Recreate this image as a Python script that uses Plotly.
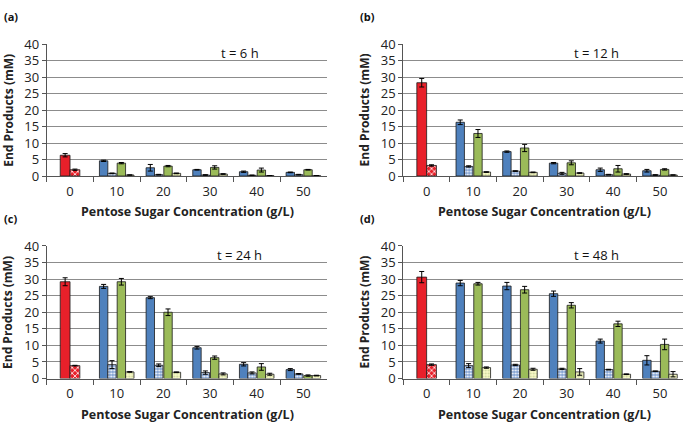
import plotly.graph_objects as go

categories = ["0", "10", "20", "30", "40", "50"]
panel_labels = ["(a)", "(b)", "(c)", "(d)"]
time_labels = ["t = 6 h", "t = 12 h", "t = 24 h", "t = 48 h"]

# series 1: red at 0 g/L, blue otherwise (solid)
s1_a = [6.3, 4.6, 2.5, 1.9, 1.3, 1.1]
s1_a_err = [0.5, 0.2, 1.0, 0.1, 0.2, 0.1]
s1_b = [28.3, 16.3, 7.4, 3.9, 1.9, 1.6]
s1_b_err = [1.3, 0.7, 0.2, 0.2, 0.5, 0.4]
s1_c = [29.2, 27.8, 24.4, 9.3, 4.3, 2.7]
s1_c_err = [1.2, 0.6, 0.3, 0.4, 0.5, 0.3]
s1_d = [30.6, 28.8, 27.9, 25.6, 11.3, 5.5]
s1_d_err = [1.7, 0.8, 1.1, 0.8, 0.6, 1.4]

# series 2: checkered (red at 0 g/L, blue otherwise)
s2_a = [1.9, 0.8, 0.4, 0.3, 0.2, 0.4]
s2_a_err = [0.2, 0.1, 0.1, 0.1, 0.1, 0.1]
s2_b = [3.2, 2.9, 1.5, 0.8, 0.4, 0.3]
s2_b_err = [0.2, 0.2, 0.1, 0.3, 0.1, 0.1]
s2_c = [3.9, 4.2, 4.0, 1.8, 1.7, 1.4]
s2_c_err = [0.1, 1.2, 0.4, 0.5, 0.3, 0.1]
s2_d = [4.2, 3.9, 4.1, 2.9, 2.7, 2.2]
s2_d_err = [0.2, 0.6, 0.2, 0.2, 0.1, 0.1]

# series 3: green (no value at 0 g/L)
s3_a = [None, 3.9, 3.0, 2.6, 1.8, 1.9]
s3_a_err = [0, 0.2, 0.2, 0.5, 0.6, 0.1]
s3_b = [None, 12.9, 8.5, 4.0, 2.2, 2.0]
s3_b_err = [0, 1.2, 1.1, 0.6, 1.0, 0.2]
s3_c = [None, 29.2, 20.0, 6.3, 3.5, 0.9]
s3_c_err = [0, 1.0, 1.0, 0.5, 1.0, 0.2]
s3_d = [None, 28.6, 26.8, 22.1, 16.5, 10.3]
s3_d_err = [0, 0.4, 1.0, 0.8, 0.8, 1.6]

# series 4: pale yellow dotted (no value at 0 g/L)
s4_a = [None, 0.3, 0.8, 0.6, 0.1, 0.1]
s4_a_err = [0, 0.05, 0.1, 0.1, 0.05, 0.05]
s4_b = [None, 1.2, 1.1, 0.9, 0.6, 0.3]
s4_b_err = [0, 0.1, 0.1, 0.1, 0.1, 0.05]
s4_c = [None, 2.0, 1.9, 1.4, 1.3, 0.9]
s4_c_err = [0, 0.1, 0.1, 0.3, 0.3, 0.1]
s4_d = [None, 3.3, 2.8, 2.0, 1.3, 1.3]
s4_d_err = [0, 0.2, 0.3, 1.0, 0.1, 0.8]

panels = [
    (s1_a, s1_a_err, s2_a, s2_a_err, s3_a, s3_a_err, s4_a, s4_a_err),
    (s1_b, s1_b_err, s2_b, s2_b_err, s3_b, s3_b_err, s4_b, s4_b_err),
    (s1_c, s1_c_err, s2_c, s2_c_err, s3_c, s3_c_err, s4_c, s4_c_err),
    (s1_d, s1_d_err, s2_d, s2_d_err, s3_d, s3_d_err, s4_d, s4_d_err),
]

W, H = 685, 430
RED = "#E8202A"
BLUE = "#4F81BD"
GREEN = "#9BBB59"
CREAM = "#FAFAC8"
FONT = "Open Sans"

# plot area rectangles in pixels (left, right, top, bottom)
rects = [
    (46.7, 326.7, 36.7, 174.3),
    (403.3, 683.3, 36.7, 174.3),
    (46.7, 326.7, 247.3, 385.7),
    (403.3, 683.3, 247.3, 385.7),
]

bw4 = 0.18
bw2 = 0.21
off1 = [-bw2] + [-2 * bw4 - 0.01] * 5
off2 = [0.0] + [-bw4 - 0.01] * 5
off3 = [0.01] * 6
off4 = [bw4 + 0.01] * 6
wid1 = [bw2] + [bw4] * 5
wid2 = [bw2] + [bw4] * 5
wid3 = [bw4] * 6

fig = go.Figure()
line = dict(color="#1a1a1a", width=0.8)


def err(vals):
    return dict(type="data", array=vals, color="black", thickness=1, width=2.5, visible=True)


def only_first(vals):
    return [vals[0]] + [None] * (len(vals) - 1)


def except_first(vals):
    return [None] + list(vals[1:])


for i, (v1, e1, v2, e2, v3, e3, v4, e4) in enumerate(panels):
    xa = "x" if i == 0 else f"x{i+1}"
    ya = "y" if i == 0 else f"y{i+1}"
    fig.add_trace(go.Bar(
        x=categories, y=v1, xaxis=xa, yaxis=ya, offset=off1, width=wid1,
        marker=dict(color=[RED] + [BLUE] * 5, line=line),
        error_y=err(e1), showlegend=False))
    # red checkered (0 g/L)
    fig.add_trace(go.Bar(
        x=categories, y=only_first(v2), xaxis=xa, yaxis=ya, offset=off2, width=wid2,
        marker=dict(color=RED, line=line,
                    pattern=dict(shape="x", fgcolor="white", bgcolor=RED, fillmode="replace",
                                 size=4, solidity=0.35)),
        error_y=err(e2), showlegend=False))
    # blue checkered (others)
    fig.add_trace(go.Bar(
        x=categories, y=except_first(v2), xaxis=xa, yaxis=ya, offset=off2, width=wid2,
        marker=dict(color=BLUE, line=line,
                    pattern=dict(shape=".", fgcolor="white", bgcolor="#7C9ED0", fillmode="replace",
                                 size=3, solidity=0.4)),
        error_y=err(e2), showlegend=False))
    fig.add_trace(go.Bar(
        x=categories, y=v3, xaxis=xa, yaxis=ya, offset=off3, width=wid3,
        marker=dict(color=GREEN, line=line),
        error_y=err(e3), showlegend=False))
    fig.add_trace(go.Bar(
        x=categories, y=v4, xaxis=xa, yaxis=ya, offset=off4, width=wid3,
        marker=dict(color=CREAM, line=line,
                    pattern=dict(shape=".", fgcolor="#C8D49A", bgcolor=CREAM, fillmode="replace",
                                 size=3, solidity=0.3)),
        error_y=err(e4), showlegend=False))

layout = dict(
    width=W, height=H, margin=dict(l=0, r=0, t=0, b=0),
    paper_bgcolor="white", plot_bgcolor="white",
    barmode="overlay", font=dict(family=FONT, color="#222"),
)
annotations = []
for i, (l, r, t, b) in enumerate(rects):
    sfx = "" if i == 0 else str(i + 1)
    layout["xaxis" + sfx] = dict(
        domain=[l / W, r / W], anchor="y" + sfx, type="category",
        categoryorder="array", categoryarray=categories,
        tickson="boundaries", ticks="outside", ticklen=5, tickcolor="#555",
        showline=True, linecolor="#555", linewidth=1, showgrid=False,
        ticklabelstandoff=3,
        tickfont=dict(size=13, color="#222", family=FONT), range=[-0.5, 5.5],
        fixedrange=True)
    layout["yaxis" + sfx] = dict(
        domain=[1 - b / H, 1 - t / H], anchor="x" + sfx, range=[0, 40],
        dtick=5, ticks="outside", ticklen=4, tickcolor="#555",
        showline=True, linecolor="#555", linewidth=1,
        showgrid=True, gridcolor="#8c8c8c", gridwidth=1, zeroline=False,
        tickfont=dict(size=13, color="#222", family=FONT), fixedrange=True)
    # panel label
    annotations.append(dict(x=(l - 45) / W, y=1 - (t - 29) / H, xref="paper", yref="paper",
                            text=f"<b>{panel_labels[i]}</b>", showarrow=False,
                            xanchor="left", yanchor="middle",
                            font=dict(size=11, family=FONT, color="#111")))
    # time label
    annotations.append(dict(x=(l + 0.69 * (r - l)) / W, y=1 - (t + 9) / H, xref="paper", yref="paper",
                            text=time_labels[i], showarrow=False,
                            xanchor="center", yanchor="middle",
                            font=dict(size=13, family=FONT, color="#111")))
    # y title
    annotations.append(dict(x=(l - 39) / W, y=1 - ((t + b) / 2) / H, xref="paper", yref="paper",
                            text="<b>End Products (mM)</b>", showarrow=False, textangle=-90,
                            xanchor="center", yanchor="middle",
                            font=dict(size=12, family=FONT, color="#222")))
    # x title
    annotations.append(dict(x=((l + r) / 2 + 1) / W, y=1 - (b + 37) / H, xref="paper", yref="paper",
                            text="<b>Pentose Sugar Concentration (g/L)</b>", showarrow=False,
                            xanchor="center", yanchor="middle",
                            font=dict(size=12.5, family=FONT, color="#222")))
layout["annotations"] = annotations
fig.update_layout(**layout)
fig.write_html("out.html", config={"displayModeBar": False},
               post_script="document.body.style.margin='0';document.body.style.overflow='hidden';")
